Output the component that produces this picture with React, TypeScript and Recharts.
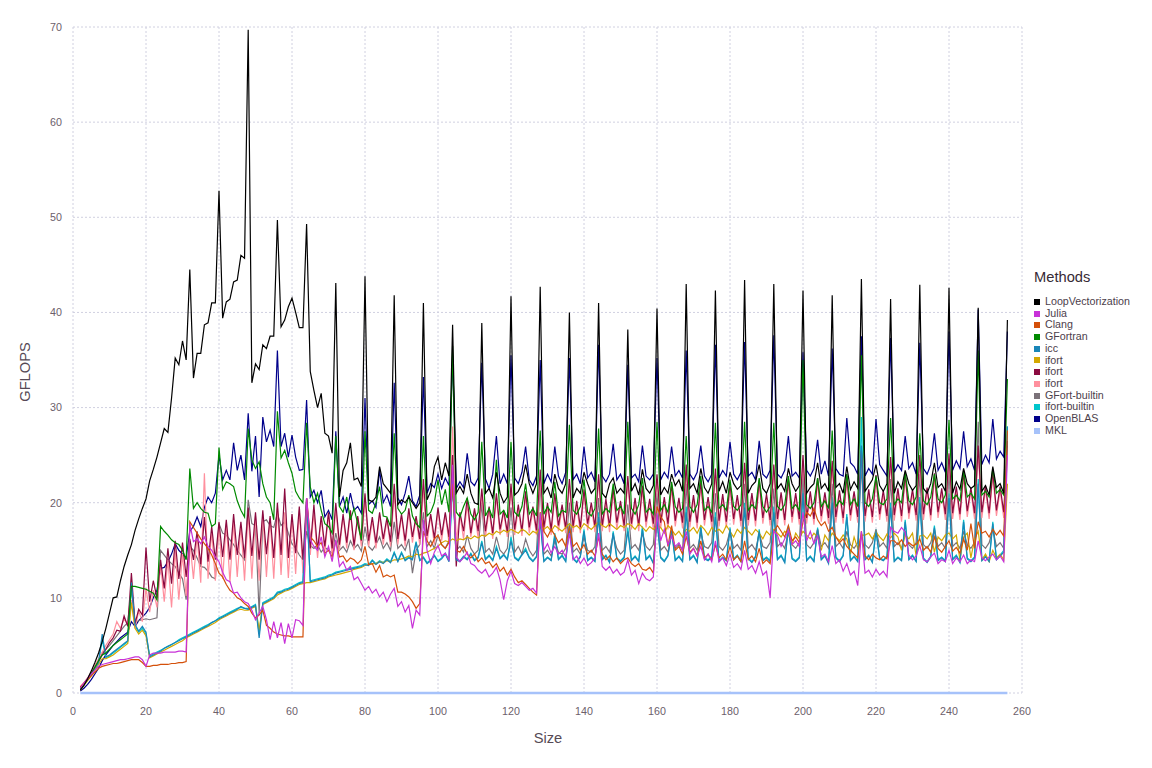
import { CartesianGrid, Line, LineChart, XAxis, YAxis } from "recharts";

// matrix size (x) -- one row per block of 8 sizes
const sizes = [
  2, 3, 4, 5, 6, 7, 8,
  9, 10, 11, 12, 13, 14, 15, 16,
  17, 18, 19, 20, 21, 22, 23, 24,
  25, 26, 27, 28, 29, 30, 31, 32,
  33, 34, 35, 36, 37, 38, 39, 40,
  41, 42, 43, 44, 45, 46, 47, 48,
  49, 50, 51, 52, 53, 54, 55, 56,
  57, 58, 59, 60, 61, 62, 63, 64,
  65, 66, 67, 68, 69, 70, 71, 72,
  73, 74, 75, 76, 77, 78, 79, 80,
  81, 82, 83, 84, 85, 86, 87, 88,
  89, 90, 91, 92, 93, 94, 95, 96,
  97, 98, 99, 100, 101, 102, 103, 104,
  105, 106, 107, 108, 109, 110, 111, 112,
  113, 114, 115, 116, 117, 118, 119, 120,
  121, 122, 123, 124, 125, 126, 127, 128,
  129, 130, 131, 132, 133, 134, 135, 136,
  137, 138, 139, 140, 141, 142, 143, 144,
  145, 146, 147, 148, 149, 150, 151, 152,
  153, 154, 155, 156, 157, 158, 159, 160,
  161, 162, 163, 164, 165, 166, 167, 168,
  169, 170, 171, 172, 173, 174, 175, 176,
  177, 178, 179, 180, 181, 182, 183, 184,
  185, 186, 187, 188, 189, 190, 191, 192,
  193, 194, 195, 196, 197, 198, 199, 200,
  201, 202, 203, 204, 205, 206, 207, 208,
  209, 210, 211, 212, 213, 214, 215, 216,
  217, 218, 219, 220, 221, 222, 223, 224,
  225, 226, 227, 228, 229, 230, 231, 232,
  233, 234, 235, 236, 237, 238, 239, 240,
  241, 242, 243, 244, 245, 246, 247, 248,
  249, 250, 251, 252, 253, 254, 255, 256,
];

const loopVectorization = [
  0.3, 0.8, 1.5, 2.3, 3.2, 4.2, 5.4,
  6.8, 8.4, 10.0, 10.1, 11.8, 13.3, 14.5, 15.6,
  17.1, 18.3, 19.4, 20.4, 22.3, 23.5, 24.8, 26.3,
  27.8, 27.4, 31.0, 35.2, 34.5, 37.0, 35.0, 44.5,
  33.1, 35.7, 35.7, 38.7, 38.9, 41.0, 41.0, 52.8,
  39.4, 41.1, 41.4, 43.2, 43.4, 46.0, 45.7, 69.7,
  32.6, 34.6, 34.0, 36.6, 36.2, 37.5, 37.5, 49.7,
  38.5, 39.2, 40.6, 41.5, 40.0, 38.4, 38.4, 49.3,
  33.8, 31.8, 30.0, 31.5, 27.3, 27.0, 25.2, 43.1,
  20.6, 23.4, 24.2, 26.3, 22.4, 22.6, 21.7, 43.8,
  20.3, 20.1, 20.6, 23.8, 22.0, 21.5, 21.0, 41.8,
  19.8, 20.3, 20.0, 20.6, 20.0, 19.4, 20.0, 41.0,
  20.3, 21.2, 23.8, 24.8, 22.4, 24.2, 22.8, 38.7,
  21.0, 21.7, 21.0, 23.0, 21.0, 20.0, 19.8, 38.9,
  21.0, 21.5, 20.5, 23.2, 21.0, 20.0, 20.6, 41.7,
  20.8, 21.2, 22.0, 24.0, 22.0, 21.0, 22.0, 42.7,
  21.0, 21.6, 20.5, 23.0, 21.5, 21.0, 22.0, 40.0,
  20.5, 21.5, 21.0, 23.2, 22.0, 21.0, 21.5, 41.0,
  21.0, 20.5, 22.0, 22.6, 21.0, 21.5, 21.0, 38.2,
  21.2, 22.0, 20.8, 23.5, 21.5, 21.0, 21.8, 40.4,
  20.8, 21.6, 21.0, 23.0, 21.8, 22.4, 21.2, 43.0,
  21.5, 22.0, 21.0, 23.6, 21.6, 21.0, 22.0, 42.3,
  21.2, 22.2, 21.0, 23.2, 22.0, 21.4, 21.8, 43.4,
  21.0, 21.8, 22.2, 24.0, 21.5, 21.0, 22.0, 43.0,
  21.5, 22.0, 21.2, 23.6, 22.0, 21.2, 21.8, 42.3,
  21.0, 21.6, 22.0, 24.2, 21.5, 22.0, 21.2, 41.8,
  21.6, 22.0, 21.0, 23.8, 21.4, 22.2, 21.5, 43.5,
  21.2, 21.8, 22.4, 24.0, 21.8, 21.2, 22.0, 41.4,
  21.0, 22.2, 21.5, 23.4, 22.0, 21.3, 21.8, 42.9,
  21.5, 21.0, 22.0, 24.2, 21.6, 22.0, 21.2, 42.6,
  21.0, 22.2, 21.4, 23.6, 22.0, 21.5, 21.8, 40.5,
  21.2, 21.8, 20.8, 23.8, 21.6, 22.0, 21.0, 39.2,
];

const julia = [
  0.5, 1.0, 1.5, 2.0, 2.4, 2.8, 3.0,
  3.1, 3.2, 3.3, 3.4, 3.5, 3.5, 3.6, 3.7,
  3.8, 3.8, 3.5, 2.8, 4.0, 4.2, 4.2, 4.2,
  4.3, 4.3, 4.3, 4.3, 4.4, 4.4, 4.3, 17.8,
  15.9, 16.2, 15.7, 16.4, 15.4, 15.0, 14.3, 13.8,
  12.7, 11.9, 11.7, 10.5, 10.6, 10.0, 9.6, 9.4,
  8.7, 7.7, 8.4, 9.1, 7.7, 5.6, 7.5, 5.8,
  7.4, 5.2, 7.3, 5.8, 7.7, 7.6, 7.1, 20.5,
  16.1, 15.4, 15.0, 16.4, 14.3, 15.4, 13.8, 16.1,
  13.3, 13.8, 12.9, 13.3, 11.9, 12.2, 11.5, 10.8,
  11.2, 10.5, 10.9, 10.1, 10.6, 9.6, 10.4, 11.0,
  9.1, 9.6, 8.5, 9.2, 6.8, 8.7, 8.2, 18.2,
  15.0, 13.6, 14.8, 15.5, 14.4, 14.7, 14.0, 24.0,
  14.3, 13.8, 14.2, 14.8, 13.6, 13.4, 12.9, 12.6,
  13.0, 12.2, 12.6, 13.2, 11.9, 9.8, 11.8, 12.8,
  11.5, 11.3, 11.6, 11.2, 10.8, 11.0, 10.5, 18.9,
  15.0, 15.7, 14.7, 15.4, 14.6, 15.0, 14.3, 16.8,
  14.0, 14.4, 13.6, 14.2, 13.4, 13.7, 14.2, 16.8,
  13.3, 12.9, 13.3, 12.6, 13.0, 12.4, 12.7, 14.0,
  12.4, 12.9, 11.5, 12.6, 12.0, 11.8, 12.2, 18.9,
  16.0, 17.2, 15.6, 16.5, 15.4, 15.8, 15.0, 17.0,
  14.6, 15.2, 14.4, 15.4, 14.0, 14.6, 13.8, 16.0,
  13.8, 14.2, 13.4, 14.6, 13.2, 13.6, 13.0, 15.0,
  13.0, 13.4, 12.6, 13.8, 12.4, 12.8, 10.0, 17.0,
  16.6, 15.4, 16.2, 17.1, 15.6, 16.0, 15.4, 19.0,
  16.0, 17.0, 15.7, 16.5, 14.3, 14.6, 13.8, 15.5,
  13.6, 14.0, 12.8, 13.6, 12.4, 12.8, 11.3, 17.0,
  12.6, 12.9, 12.2, 13.0, 12.4, 12.8, 12.2, 17.4,
  17.0, 16.8, 17.4, 16.9, 14.5, 14.0, 14.4, 15.5,
  14.0, 13.8, 14.3, 14.7, 13.6, 14.0, 13.8, 15.0,
  13.6, 14.2, 13.8, 14.5, 13.6, 14.0, 13.8, 16.0,
  14.2, 13.9, 14.3, 14.6, 14.0, 14.4, 13.8, 25.0,
];

const clang = [
  0.6, 1.0, 1.4, 1.8, 2.2, 2.6, 2.8,
  2.9, 3.0, 3.1, 3.1, 3.2, 3.3, 3.4, 3.5,
  3.5, 3.5, 3.2, 2.8, 2.8, 2.9, 2.9, 3.0,
  3.0, 3.0, 3.1, 3.1, 3.2, 3.2, 3.3, 18.0,
  17.4, 16.8, 16.2, 15.7, 15.2, 14.5, 13.6, 12.6,
  12.2, 11.4, 10.8, 10.5, 10.0, 9.8, 9.4, 9.1,
  8.4, 7.9, 8.2, 8.7, 7.1, 6.8, 6.4, 6.2,
  6.1, 6.0, 6.0, 5.9, 5.9, 5.9, 5.9, 20.5,
  16.4, 16.0, 15.4, 15.8, 14.7, 15.0, 14.3, 16.0,
  14.3, 14.4, 13.8, 14.2, 14.0, 13.6, 14.0, 15.4,
  13.5, 13.6, 12.7, 13.4, 12.2, 12.4, 12.2, 12.4,
  10.6, 10.6, 10.4, 10.1, 9.6, 8.9, 9.4, 17.0,
  16.0, 15.4, 16.2, 16.6, 15.6, 15.2, 15.8, 22.0,
  15.0, 14.8, 15.4, 14.6, 14.2, 14.6, 13.8, 14.2,
  13.6, 13.8, 13.2, 13.6, 12.8, 13.2, 12.4, 13.0,
  12.2, 11.6, 11.8, 11.4, 11.0, 10.6, 10.3, 19.0,
  17.0, 16.4, 17.2, 16.6, 15.8, 16.2, 15.4, 17.6,
  15.4, 15.8, 15.0, 15.6, 14.6, 15.0, 14.4, 16.4,
  14.6, 14.0, 14.4, 13.8, 14.2, 13.6, 14.0, 14.2,
  13.6, 13.3, 13.6, 13.0, 12.9, 13.2, 12.6, 19.6,
  18.5, 18.0, 15.4, 17.6, 15.0, 15.4, 14.6, 16.5,
  14.8, 15.2, 14.4, 16.0, 14.2, 14.6, 14.0, 15.6,
  14.2, 14.6, 14.0, 15.4, 14.0, 14.4, 13.8, 16.0,
  14.0, 14.4, 13.8, 15.2, 13.6, 14.0, 13.6, 17.0,
  17.6, 17.0, 16.4, 17.6, 16.0, 16.4, 15.8, 18.0,
  19.0, 18.6, 19.4, 18.2, 17.6, 18.0, 17.0, 17.4,
  16.4, 15.8, 16.2, 15.4, 15.0, 14.6, 14.2, 17.0,
  14.4, 14.0, 14.6, 14.2, 14.0, 14.4, 14.1, 16.0,
  16.0, 15.6, 16.1, 15.4, 15.8, 15.5, 15.6, 16.2,
  15.0, 15.4, 14.8, 16.4, 15.2, 14.8, 15.4, 16.0,
  14.9, 15.3, 14.7, 16.2, 15.0, 17.8, 15.2, 18.0,
  16.8, 17.0, 16.4, 17.2, 16.6, 17.1, 16.5, 27.6,
];

const gfortran = [
  0.5, 0.9, 1.4, 2.0, 2.7, 3.4, 4.0,
  4.2, 4.6, 5.0, 5.3, 5.6, 5.9, 6.2, 11.2,
  11.2, 11.1, 11.0, 10.9, 10.7, 10.5, 9.8, 17.5,
  17.0, 16.6, 16.1, 15.8, 15.6, 15.0, 14.0, 23.6,
  19.4, 20.0, 19.4, 19.0, 18.9, 17.5, 17.8, 25.8,
  21.4, 22.2, 22.0, 21.7, 20.2, 19.2, 18.5, 27.8,
  24.5, 23.6, 24.3, 22.0, 20.6, 20.0, 18.2, 29.6,
  24.7, 25.5, 24.2, 23.1, 21.2, 20.5, 20.0, 28.4,
  21.7, 20.0, 21.0, 19.2, 17.8, 17.5, 16.8, 27.0,
  19.6, 19.0, 20.6, 18.2, 19.4, 17.8, 16.1, 27.5,
  19.2, 18.9, 20.0, 21.7, 18.6, 18.5, 17.5, 27.3,
  19.4, 18.8, 19.2, 20.8, 18.6, 17.8, 17.4, 27.0,
  18.6, 19.0, 20.0, 22.4, 19.8, 21.4, 19.0, 36.5,
  19.0, 18.5, 19.6, 20.5, 18.8, 18.2, 19.0, 26.4,
  18.6, 19.4, 18.4, 24.5, 18.8, 19.2, 18.4, 26.4,
  19.0, 18.6, 19.6, 22.0, 18.8, 19.4, 18.6, 27.6,
  18.8, 19.6, 19.0, 22.2, 18.6, 19.2, 19.0, 28.2,
  19.2, 18.8, 19.6, 22.4, 19.0, 18.6, 19.4, 27.8,
  18.8, 19.4, 19.0, 22.0, 19.2, 19.6, 18.8, 28.5,
  19.4, 18.8, 19.8, 22.6, 19.0, 19.4, 18.8, 28.5,
  19.2, 19.8, 19.0, 22.2, 19.6, 19.0, 19.4, 27.0,
  19.6, 19.0, 19.8, 22.8, 19.2, 19.6, 19.0, 28.4,
  19.4, 19.8, 19.2, 22.4, 19.6, 19.2, 19.8, 28.5,
  19.2, 19.8, 19.4, 22.6, 19.6, 19.0, 19.6, 28.4,
  19.6, 19.2, 19.8, 22.8, 19.4, 19.8, 19.2, 35.0,
  19.8, 19.4, 20.0, 22.6, 19.6, 20.2, 19.4, 27.6,
  19.6, 20.2, 19.8, 23.0, 19.8, 20.4, 19.6, 35.5,
  20.0, 19.6, 20.4, 22.8, 20.0, 19.8, 20.4, 28.9,
  19.8, 20.4, 20.0, 23.2, 20.2, 19.8, 20.6, 27.3,
  20.2, 19.8, 20.6, 23.0, 20.4, 20.0, 20.8, 28.7,
  20.4, 20.8, 20.2, 23.4, 20.6, 21.0, 20.4, 36.0,
  20.8, 21.2, 20.6, 23.6, 21.0, 21.4, 20.8, 33.0,
];

const icc = [
  0.4, 0.9, 1.4, 2.0, 2.6, 3.2, 6.2,
  3.8, 4.0, 4.3, 4.6, 4.9, 5.2, 5.5, 11.6,
  7.2, 6.5, 7.0, 6.4, 3.8, 4.0, 4.2, 4.4,
  4.7, 4.9, 5.1, 5.3, 5.5, 5.7, 5.9, 6.1,
  6.3, 6.5, 6.7, 6.9, 7.1, 7.4, 7.6, 7.8,
  8.0, 8.2, 8.4, 8.6, 8.8, 9.1, 8.9, 8.8,
  9.0, 9.2, 5.8, 9.4, 9.6, 9.8, 10.0, 10.5,
  10.6, 10.8, 10.9, 11.1, 11.3, 11.5, 11.6, 20.4,
  11.7, 11.8, 11.9, 12.0, 12.1, 12.3, 12.4, 12.6,
  12.7, 12.8, 12.9, 13.0, 13.1, 13.2, 13.3, 13.5,
  13.4, 13.9, 13.5, 13.8, 13.6, 14.0, 13.7, 14.7,
  13.8, 14.7, 13.9, 14.2, 14.0, 15.8, 13.9, 14.2,
  13.6, 13.9, 14.4, 13.8, 14.1, 14.6, 13.8, 23.0,
  14.0, 13.8, 14.3, 14.0, 14.6, 13.9, 14.2, 15.8,
  14.0, 14.4, 13.9, 15.2, 14.1, 14.5, 14.0, 16.0,
  14.2, 13.9, 14.5, 15.0, 14.2, 13.8, 14.3, 18.0,
  13.8, 14.2, 13.9, 16.5, 14.0, 14.4, 13.8, 17.5,
  14.1, 13.7, 14.3, 17.0, 13.9, 14.2, 13.8, 18.5,
  14.0, 14.4, 13.7, 16.8, 14.1, 13.8, 14.2, 17.0,
  13.9, 14.3, 13.8, 17.2, 14.0, 14.4, 13.6, 18.0,
  14.2, 13.8, 14.4, 17.0, 13.9, 14.3, 13.8, 19.0,
  14.0, 14.4, 13.7, 17.4, 14.1, 13.9, 14.3, 18.5,
  13.8, 14.2, 13.9, 17.2, 14.0, 14.4, 13.8, 19.5,
  14.1, 13.7, 14.3, 17.0, 13.9, 14.2, 13.8, 19.0,
  14.0, 14.4, 13.7, 17.4, 14.1, 13.8, 14.2, 21.0,
  13.9, 14.3, 13.8, 17.2, 14.0, 14.4, 13.6, 20.0,
  14.2, 13.8, 14.4, 18.5, 13.9, 14.3, 13.8, 26.0,
  14.0, 14.4, 13.7, 17.0, 14.1, 13.9, 14.3, 19.5,
  13.8, 14.2, 13.9, 18.0, 14.0, 14.4, 13.8, 20.0,
  14.1, 13.7, 14.3, 17.4, 13.9, 14.2, 13.8, 20.5,
  14.0, 14.4, 13.7, 18.0, 14.1, 13.8, 14.2, 22.0,
  13.9, 14.3, 13.8, 17.8, 14.0, 14.4, 14.8, 28.0,
];

const ifortGold = [
  0.3, 0.8, 1.3, 1.8, 2.4, 3.0, 3.6,
  3.6, 3.8, 4.0, 4.3, 4.6, 4.9, 5.2, 9.5,
  6.8, 6.2, 6.6, 6.0, 3.7, 3.9, 4.1, 4.3,
  4.5, 4.7, 4.9, 5.1, 5.3, 5.5, 5.8, 6.0,
  6.2, 6.4, 6.6, 6.8, 7.0, 7.2, 7.4, 7.7,
  7.9, 8.1, 8.3, 8.5, 8.7, 8.8, 8.7, 8.7,
  8.9, 9.1, 6.6, 9.3, 9.5, 9.7, 9.9, 10.3,
  10.5, 10.7, 10.8, 11.0, 11.2, 11.4, 11.5, 11.6,
  11.6, 11.7, 11.8, 11.9, 12.0, 12.2, 12.3, 12.4,
  12.5, 12.6, 12.7, 12.8, 13.0, 13.1, 13.2, 13.4,
  13.5, 13.6, 13.6, 13.8, 13.7, 13.9, 13.8, 14.0,
  14.0, 14.1, 14.2, 14.4, 14.3, 14.6, 14.5, 14.7,
  14.8, 15.0, 15.2, 15.4, 15.8, 16.0, 15.9, 16.2,
  16.0, 16.2, 16.1, 16.4, 16.2, 16.5, 16.3, 16.6,
  16.5, 16.8, 16.6, 17.0, 16.8, 17.1, 16.9, 17.2,
  17.0, 16.8, 17.2, 17.0, 16.6, 17.0, 16.8, 17.4,
  17.2, 17.5, 17.0, 17.6, 17.3, 17.0, 17.4, 17.8,
  17.4, 17.6, 17.2, 17.8, 17.5, 17.2, 17.6, 18.0,
  17.6, 17.4, 17.8, 17.5, 17.2, 17.6, 17.4, 17.8,
  17.6, 17.2, 17.8, 17.4, 17.0, 17.5, 17.2, 17.6,
  17.4, 16.8, 17.6, 17.2, 16.6, 17.0, 16.4, 17.2,
  17.0, 17.4, 16.8, 17.6, 17.2, 16.6, 17.4, 17.0,
  17.2, 16.8, 17.6, 17.0, 16.4, 17.2, 16.8, 17.4,
  17.0, 16.6, 17.2, 16.8, 16.2, 17.0, 16.6, 17.2,
  16.8, 16.4, 17.0, 16.6, 15.6, 16.8, 16.2, 17.0,
  16.6, 16.2, 16.8, 16.4, 15.0, 16.6, 16.0, 16.8,
  16.4, 16.0, 16.6, 16.2, 14.6, 16.4, 15.2, 16.6,
  16.6, 16.8, 16.2, 16.9, 16.4, 16.0, 16.7, 16.3,
  16.8, 16.4, 15.0, 16.6, 16.2, 16.8, 14.4, 16.5,
  16.6, 16.2, 16.8, 14.8, 16.4, 16.0, 16.6, 16.8,
  16.2, 16.6, 14.0, 16.4, 16.8, 14.2, 16.2, 17.0,
  14.0, 14.6, 13.8, 15.0, 14.2, 14.6, 14.0, 22.0,
];

const ifortMaroon = [
  0.6, 1.0, 1.5, 2.1, 2.7, 3.3, 4.0,
  4.6, 5.3, 5.8, 6.6, 6.5, 8.1, 7.0, 12.6,
  7.3, 8.8, 8.2, 15.3, 9.6, 11.8, 10.0, 14.0,
  11.0, 15.2, 11.5, 16.0, 12.0, 15.8, 12.2, 16.2,
  14.0, 17.0, 13.5, 18.5, 13.8, 17.5, 14.0, 18.0,
  14.3, 18.2, 14.0, 18.8, 14.5, 18.0, 14.2, 19.5,
  14.4, 19.0, 14.0, 19.2, 14.6, 18.6, 14.2, 20.0,
  14.5, 21.5, 14.2, 18.8, 14.7, 19.6, 14.0, 20.5,
  15.2, 19.8, 15.0, 18.6, 15.4, 19.0, 15.2, 20.0,
  15.6, 18.8, 15.8, 19.2, 15.5, 18.6, 16.0, 21.0,
  16.0, 18.5, 15.8, 19.0, 16.2, 18.4, 15.9, 22.0,
  16.2, 18.8, 16.0, 19.4, 16.4, 18.6, 16.2, 22.5,
  16.5, 18.8, 16.3, 19.5, 16.6, 19.0, 16.4, 25.0,
  13.3, 19.0, 17.0, 20.5, 16.8, 19.4, 17.0, 21.5,
  17.0, 19.6, 16.8, 21.0, 17.2, 19.2, 16.9, 22.0,
  17.2, 19.8, 17.0, 21.2, 17.4, 19.6, 17.1, 23.5,
  17.4, 20.0, 17.2, 21.0, 17.6, 19.8, 17.3, 22.5,
  17.5, 20.2, 17.4, 21.4, 17.8, 20.0, 17.5, 23.0,
  17.6, 20.4, 17.5, 21.6, 17.9, 20.2, 17.6, 22.8,
  17.8, 20.5, 17.6, 21.8, 18.0, 20.4, 17.8, 23.0,
  17.9, 20.6, 17.8, 22.0, 18.1, 20.5, 17.9, 24.0,
  18.0, 20.8, 17.9, 22.2, 18.2, 20.6, 18.0, 23.6,
  18.1, 20.9, 18.0, 22.0, 18.3, 20.8, 18.1, 24.2,
  18.2, 21.0, 18.1, 22.4, 18.4, 20.9, 18.2, 24.0,
  18.3, 21.1, 18.2, 22.5, 18.5, 21.0, 18.3, 25.0,
  18.4, 21.2, 18.3, 22.6, 18.6, 21.1, 18.4, 24.4,
  18.5, 21.3, 18.4, 22.8, 18.7, 21.2, 18.5, 25.5,
  18.6, 21.4, 18.5, 22.9, 18.8, 21.3, 18.6, 24.8,
  18.7, 21.5, 18.6, 23.0, 18.9, 21.4, 18.7, 25.0,
  18.8, 21.6, 18.7, 23.1, 19.0, 21.5, 18.8, 25.2,
  18.9, 21.7, 18.8, 23.2, 19.1, 21.6, 18.9, 26.0,
  19.0, 21.8, 18.9, 23.3, 19.2, 21.7, 19.0, 26.5,
];

const ifortPink = [
  0.7, 1.1, 1.6, 2.2, 2.9, 3.6, 4.3,
  5.0, 5.6, 6.2, 7.5, 6.8, 7.8, 7.2, 9.8,
  6.8, 8.6, 7.5, 11.0, 8.5, 10.8, 9.0, 13.5,
  9.6, 14.0, 9.0, 15.0, 9.8, 14.6, 10.2, 16.0,
  12.0, 16.5, 11.6, 23.1, 12.0, 17.0, 11.8, 17.5,
  12.0, 17.8, 11.6, 18.0, 12.2, 17.6, 11.8, 19.0,
  12.0, 18.6, 11.8, 18.8, 12.2, 18.4, 12.0, 19.5,
  12.4, 19.0, 12.1, 18.5, 12.5, 19.2, 12.6, 20.0,
  14.5, 19.0, 14.2, 18.4, 14.8, 18.8, 14.4, 19.5,
  15.0, 18.6, 15.2, 19.0, 15.0, 18.4, 15.4, 20.5,
  15.4, 18.2, 15.2, 18.8, 15.6, 18.2, 15.4, 21.0,
  15.6, 18.6, 15.4, 19.0, 15.8, 18.4, 15.6, 21.5,
  15.8, 18.6, 15.6, 19.2, 16.0, 18.8, 15.8, 28.0,
  16.0, 18.8, 16.2, 19.8, 16.4, 19.0, 16.3, 21.0,
  16.4, 19.2, 16.2, 20.6, 16.6, 19.0, 16.4, 21.5,
  16.6, 19.4, 16.5, 20.8, 16.8, 19.2, 16.6, 22.5,
  16.8, 19.6, 16.6, 20.6, 17.0, 19.4, 16.8, 22.0,
  16.9, 19.8, 16.8, 21.0, 17.1, 19.6, 16.9, 22.4,
  17.0, 20.0, 16.9, 21.2, 17.2, 19.8, 17.0, 22.2,
  17.2, 20.1, 17.0, 21.4, 17.4, 20.0, 17.2, 22.5,
  17.3, 20.2, 17.2, 21.6, 17.5, 20.1, 17.3, 23.4,
  17.4, 20.4, 17.3, 21.8, 17.6, 20.2, 17.4, 23.0,
  17.5, 20.5, 17.4, 21.6, 17.7, 20.4, 17.5, 23.6,
  17.6, 20.6, 17.5, 22.0, 17.8, 20.5, 17.6, 23.4,
  17.7, 20.7, 17.6, 22.1, 17.9, 20.6, 17.7, 24.4,
  17.8, 20.8, 17.7, 22.2, 18.0, 20.7, 17.8, 23.8,
  17.9, 20.9, 17.8, 22.4, 18.1, 20.8, 17.9, 24.8,
  18.0, 21.0, 17.9, 22.5, 18.2, 20.9, 18.0, 24.2,
  18.1, 21.1, 18.0, 22.6, 18.3, 21.0, 18.1, 24.4,
  18.2, 21.2, 18.1, 22.7, 18.4, 21.1, 18.2, 24.6,
  18.3, 21.3, 18.2, 22.8, 18.5, 21.2, 18.3, 25.4,
  18.4, 21.4, 18.3, 22.9, 18.6, 21.3, 18.4, 25.8,
];

const gfortBuiltin = [
  0.5, 1.0, 1.5, 2.1, 2.8, 3.5, 4.2,
  4.6, 5.0, 5.5, 6.0, 6.5, 7.0, 7.4, 11.0,
  7.4, 7.6, 7.7, 7.8, 7.7, 7.8, 7.9, 15.0,
  14.5, 14.0, 13.6, 13.3, 12.6, 12.0, 9.8, 15.4,
  15.0, 14.2, 13.3, 13.2, 12.8, 12.2, 12.0, 17.8,
  16.8, 16.6, 16.1, 15.6, 15.0, 14.5, 14.0, 20.3,
  17.8, 17.6, 8.4, 18.0, 18.2, 17.6, 17.4, 18.9,
  17.6, 18.0, 16.8, 15.7, 15.2, 14.5, 14.0, 17.0,
  15.5, 15.2, 15.6, 14.8, 15.3, 15.0, 14.7, 16.8,
  15.0, 15.4, 14.8, 16.0, 15.2, 15.6, 14.9, 17.5,
  15.4, 15.0, 15.6, 16.4, 15.2, 15.8, 15.0, 18.0,
  15.2, 15.6, 15.0, 16.2, 12.6, 15.0, 15.6, 19.0,
  15.4, 16.0, 15.2, 16.6, 15.6, 15.2, 16.0, 22.0,
  15.0, 15.4, 14.8, 16.6, 15.2, 14.6, 15.0, 20.0,
  14.8, 15.2, 14.6, 16.4, 15.0, 14.6, 15.2, 19.5,
  14.8, 15.4, 14.6, 16.2, 15.0, 14.4, 15.0, 22.0,
  14.6, 15.0, 14.4, 16.0, 14.8, 14.6, 15.2, 20.0,
  14.8, 15.2, 14.6, 16.4, 15.0, 14.8, 15.4, 20.5,
  15.0, 15.4, 14.8, 16.6, 15.2, 14.6, 15.0, 19.8,
  15.2, 15.6, 15.0, 16.8, 15.4, 15.0, 15.6, 21.0,
  15.0, 15.4, 14.8, 16.6, 15.2, 15.6, 15.0, 22.0,
  15.2, 15.6, 15.0, 16.8, 15.4, 15.2, 15.8, 21.0,
  15.4, 15.0, 15.6, 17.0, 15.2, 15.6, 15.0, 22.0,
  15.2, 15.6, 15.0, 16.8, 15.4, 15.2, 15.8, 21.5,
  15.4, 15.8, 15.2, 17.0, 15.6, 15.2, 15.8, 23.0,
  15.6, 15.2, 15.8, 17.2, 15.4, 15.8, 15.2, 22.0,
  15.4, 15.8, 15.2, 17.0, 15.6, 15.2, 15.8, 24.0,
  15.6, 15.2, 15.8, 17.2, 15.4, 15.8, 15.2, 22.5,
  15.4, 15.8, 15.2, 17.0, 15.6, 15.2, 15.8, 23.0,
  15.6, 15.2, 15.8, 17.2, 15.4, 15.8, 15.2, 23.5,
  15.4, 15.8, 15.2, 17.0, 15.6, 15.2, 15.8, 28.5,
  15.6, 15.2, 15.8, 17.2, 15.4, 15.8, 15.2, 26.0,
];

const ifortBuiltin = [
  0.4, 0.9, 1.4, 2.0, 2.6, 3.2, 5.6,
  3.7, 3.9, 4.2, 4.5, 4.8, 5.1, 5.4, 11.2,
  7.0, 6.4, 6.8, 6.2, 3.9, 4.1, 4.3, 4.5,
  4.7, 4.9, 5.1, 5.3, 5.6, 5.8, 6.0, 6.2,
  6.4, 6.6, 6.8, 7.0, 7.2, 7.4, 7.6, 7.9,
  8.1, 8.3, 8.5, 8.7, 8.9, 9.0, 8.9, 8.9,
  9.1, 9.3, 6.2, 9.5, 9.7, 9.9, 10.1, 10.6,
  10.7, 10.9, 11.0, 11.2, 11.4, 11.6, 11.7, 20.0,
  11.8, 11.9, 12.0, 12.1, 12.2, 12.4, 12.5, 12.7,
  12.8, 12.9, 13.0, 13.1, 13.2, 13.3, 13.4, 13.6,
  13.5, 14.0, 13.6, 13.9, 13.7, 14.1, 13.8, 14.8,
  13.9, 14.8, 14.0, 14.3, 14.1, 15.9, 14.0, 14.3,
  13.7, 14.0, 14.5, 13.9, 14.2, 14.7, 13.9, 22.0,
  14.1, 13.9, 14.4, 14.1, 14.7, 14.0, 14.3, 16.0,
  14.1, 14.5, 14.0, 15.4, 14.2, 14.6, 14.1, 16.4,
  14.3, 14.0, 14.6, 15.2, 14.3, 13.9, 14.4, 18.4,
  13.9, 14.3, 14.0, 16.8, 14.1, 14.5, 13.9, 17.8,
  14.2, 13.8, 14.4, 17.2, 14.0, 14.3, 13.9, 19.0,
  14.1, 14.5, 13.8, 17.0, 14.2, 13.9, 14.3, 17.4,
  14.0, 14.4, 13.9, 17.5, 14.1, 14.5, 13.7, 18.5,
  14.3, 13.9, 14.5, 17.2, 14.0, 14.4, 13.9, 19.6,
  14.1, 14.5, 13.8, 17.6, 14.2, 14.0, 14.4, 19.0,
  13.9, 14.3, 14.0, 17.4, 14.1, 14.5, 13.9, 20.0,
  14.2, 13.8, 14.4, 17.2, 14.0, 14.3, 13.9, 19.6,
  14.1, 14.5, 13.8, 17.6, 14.2, 13.9, 14.3, 21.5,
  14.0, 14.4, 13.9, 17.4, 14.1, 14.5, 13.7, 20.6,
  14.3, 13.9, 14.5, 18.8, 14.0, 14.4, 13.9, 29.0,
  14.1, 14.5, 13.8, 17.2, 14.2, 14.0, 14.4, 20.0,
  13.9, 14.3, 14.0, 18.2, 14.1, 14.5, 13.9, 20.6,
  14.2, 13.8, 14.4, 17.6, 14.0, 14.3, 13.9, 21.0,
  14.1, 14.5, 13.8, 18.2, 14.2, 13.9, 14.3, 22.5,
  14.0, 14.4, 13.9, 18.0, 14.1, 14.5, 15.0, 28.0,
];

const openBlas = [
  0.2, 0.5, 0.9, 1.4, 2.0, 2.6, 3.4,
  4.0, 4.5, 5.0, 5.4, 5.8, 6.1, 6.4, 7.5,
  7.0, 7.6, 8.0, 8.4, 9.0, 10.0, 10.8, 13.1,
  13.2, 13.8, 14.6, 15.7, 15.0, 14.6, 14.2, 17.0,
  17.5, 18.5, 17.5, 19.5, 20.6, 20.0, 21.0, 25.0,
  22.4, 23.4, 22.4, 26.3, 23.4, 25.0, 22.4, 29.4,
  23.3, 27.0, 20.6, 29.0, 26.4, 27.6, 25.9, 36.0,
  25.9, 27.3, 24.8, 27.1, 24.8, 23.4, 23.5, 30.8,
  20.6, 21.3, 20.0, 21.3, 18.5, 19.2, 18.2, 27.5,
  19.6, 20.6, 18.9, 21.0, 19.2, 19.6, 18.9, 31.0,
  19.8, 20.2, 19.5, 23.5, 20.0, 20.8, 19.6, 32.6,
  20.5, 19.8, 21.0, 22.8, 20.2, 19.6, 20.8, 33.2,
  21.0, 22.0, 21.6, 23.0, 21.5, 22.6, 21.8, 35.5,
  21.5, 22.2, 21.6, 25.2, 22.2, 21.8, 22.6, 34.7,
  22.5, 21.5, 23.0, 27.0, 22.0, 23.0, 22.0, 35.5,
  22.6, 22.0, 23.2, 25.9, 22.4, 21.8, 22.8, 35.0,
  22.0, 23.0, 22.2, 25.9, 22.8, 22.0, 23.2, 35.2,
  22.4, 23.0, 22.0, 25.9, 22.6, 23.2, 22.2, 36.6,
  22.8, 22.2, 23.0, 26.2, 22.4, 23.0, 22.0, 34.5,
  22.6, 23.0, 22.2, 26.0, 22.8, 22.4, 23.0, 35.2,
  22.4, 23.2, 22.6, 25.9, 22.8, 23.4, 22.6, 36.0,
  23.0, 22.4, 23.2, 26.0, 22.8, 22.2, 23.0, 36.6,
  22.6, 23.4, 22.8, 26.4, 23.0, 22.4, 23.2, 36.9,
  22.8, 23.2, 22.4, 26.5, 23.0, 22.6, 23.4, 37.6,
  23.0, 22.6, 23.4, 27.0, 22.8, 23.2, 22.6, 35.8,
  23.4, 22.8, 23.6, 26.6, 23.0, 24.4, 22.8, 36.2,
  23.6, 23.0, 22.8, 28.9, 24.2, 23.8, 23.0, 37.5,
  22.8, 23.6, 23.0, 28.8, 24.0, 23.4, 22.8, 37.3,
  23.2, 24.0, 23.4, 27.0, 23.6, 24.2, 23.0, 36.8,
  23.6, 23.0, 24.0, 27.3, 23.4, 24.2, 23.2, 38.0,
  23.4, 24.4, 23.6, 27.5, 23.8, 24.6, 23.4, 40.3,
  24.0, 25.0, 24.2, 28.8, 24.6, 25.4, 24.8, 38.0,
];

const mkl = [
  0, 0, 0, 0, 0, 0, 0,
  0, 0, 0, 0, 0, 0, 0, 0,
  0, 0, 0, 0, 0, 0, 0, 0,
  0, 0, 0, 0, 0, 0, 0, 0,
  0, 0, 0, 0, 0, 0, 0, 0,
  0, 0, 0, 0, 0, 0, 0, 0,
  0, 0, 0, 0, 0, 0, 0, 0,
  0, 0, 0, 0, 0, 0, 0, 0,
  0, 0, 0, 0, 0, 0, 0, 0,
  0, 0, 0, 0, 0, 0, 0, 0,
  0, 0, 0, 0, 0, 0, 0, 0,
  0, 0, 0, 0, 0, 0, 0, 0,
  0, 0, 0, 0, 0, 0, 0, 0,
  0, 0, 0, 0, 0, 0, 0, 0,
  0, 0, 0, 0, 0, 0, 0, 0,
  0, 0, 0, 0, 0, 0, 0, 0,
  0, 0, 0, 0, 0, 0, 0, 0,
  0, 0, 0, 0, 0, 0, 0, 0,
  0, 0, 0, 0, 0, 0, 0, 0,
  0, 0, 0, 0, 0, 0, 0, 0,
  0, 0, 0, 0, 0, 0, 0, 0,
  0, 0, 0, 0, 0, 0, 0, 0,
  0, 0, 0, 0, 0, 0, 0, 0,
  0, 0, 0, 0, 0, 0, 0, 0,
  0, 0, 0, 0, 0, 0, 0, 0,
  0, 0, 0, 0, 0, 0, 0, 0,
  0, 0, 0, 0, 0, 0, 0, 0,
  0, 0, 0, 0, 0, 0, 0, 0,
  0, 0, 0, 0, 0, 0, 0, 0,
  0, 0, 0, 0, 0, 0, 0, 0,
  0, 0, 0, 0, 0, 0, 0, 0,
  0, 0, 0, 0, 0, 0, 0, 0,
];

const xTicks = [0, 20, 40, 60, 80, 100, 120, 140, 160, 180, 200, 220, 240, 260];
const yTicks = [0, 10, 20, 30, 40, 50, 60, 70];

// legend order; drawn in reverse so the first entry ends up on top
const series = [
  { key: "lv", name: "LoopVectorization", color: "#000000", values: loopVectorization },
  { key: "julia", name: "Julia", color: "#c832d8", values: julia },
  { key: "clang", name: "Clang", color: "#d4500a", values: clang },
  { key: "gfortran", name: "GFortran", color: "#008a00", values: gfortran },
  { key: "icc", name: "icc", color: "#1a86b8", values: icc },
  { key: "ifort1", name: "ifort", color: "#d4a800", values: ifortGold },
  { key: "ifort2", name: "ifort", color: "#8b0a40", values: ifortMaroon },
  { key: "ifort3", name: "ifort", color: "#ff909e", values: ifortPink },
  { key: "gfb", name: "GFort-builtin", color: "#7b7279", values: gfortBuiltin },
  { key: "ifb", name: "ifort-builtin", color: "#00c6cc", values: ifortBuiltin },
  { key: "openblas", name: "OpenBLAS", color: "#00008b", values: openBlas },
  { key: "mkl", name: "MKL", color: "#a6c2fa", values: mkl },
];

const table = sizes.map((size, i) => {
  const row: Record<string, number> = { size };
  series.forEach((s) => {
    row[s.key] = s.values[i];
  });
  return row;
});

const FONT = '"Liberation Sans", Arial, sans-serif';

export default function App() {
  return (
    <div
      style={{
        position: "absolute",
        left: 0,
        top: 0,
        width: 1152,
        height: 768,
        background: "#fff",
        fontFamily: FONT,
      }}
    >
      <LineChart
        width={1152}
        height={768}
        data={table}
        margin={{ top: 27, right: 130, left: 0, bottom: 0 }}
      >
        <CartesianGrid stroke="#d0d0e0" strokeDasharray="2 2" />
        <XAxis
          dataKey="size"
          type="number"
          domain={[0, 260]}
          ticks={xTicks}
          height={75}
          tickSize={0}
          tickMargin={14}
          axisLine={false}
          tick={{ fill: "#6c606b", fontSize: 10.7, fontFamily: FONT }}
        />
        <YAxis
          type="number"
          domain={[0, 70]}
          ticks={yTicks}
          width={73}
          tickSize={0}
          tickMargin={11}
          axisLine={false}
          tick={{ fill: "#6c606b", fontSize: 10.7, fontFamily: FONT }}
        />
        {[...series].reverse().map((s) => (
          <Line
            key={s.key}
            dataKey={s.key}
            name={s.name}
            stroke={s.color}
            strokeWidth={s.key === "mkl" ? 2.5 : 1.2}
            dot={false}
            activeDot={false}
            isAnimationActive={false}
          />
        ))}
      </LineChart>

      <div
        style={{
          position: "absolute",
          left: 25,
          top: 372,
          transform: "translate(-50%, -50%) rotate(-90deg)",
          fontSize: 14.7,
          color: "#564a55",
          whiteSpace: "nowrap",
        }}
      >
        GFLOPS
      </div>
      <div
        style={{
          position: "absolute",
          left: 548,
          top: 738,
          transform: "translate(-50%, -50%)",
          fontSize: 14.7,
          color: "#564a55",
        }}
      >
        Size
      </div>

      <div style={{ position: "absolute", left: 1034, top: 267 }}>
        <div style={{ fontSize: 14.7, color: "#362a35", lineHeight: "20px", marginBottom: 9 }}>
          Methods
        </div>
        {series.map((s) => (
          <div
            key={s.key}
            style={{ display: "flex", alignItems: "center", height: 11.73, fontSize: 10.7, color: "#4c404b" }}
          >
            <span style={{ width: 6, height: 6, background: s.color, marginRight: 5, flex: "none" }} />
            <span style={{ lineHeight: "11.73px", whiteSpace: "nowrap" }}>{s.name}</span>
          </div>
        ))}
      </div>
    </div>
  );
}
